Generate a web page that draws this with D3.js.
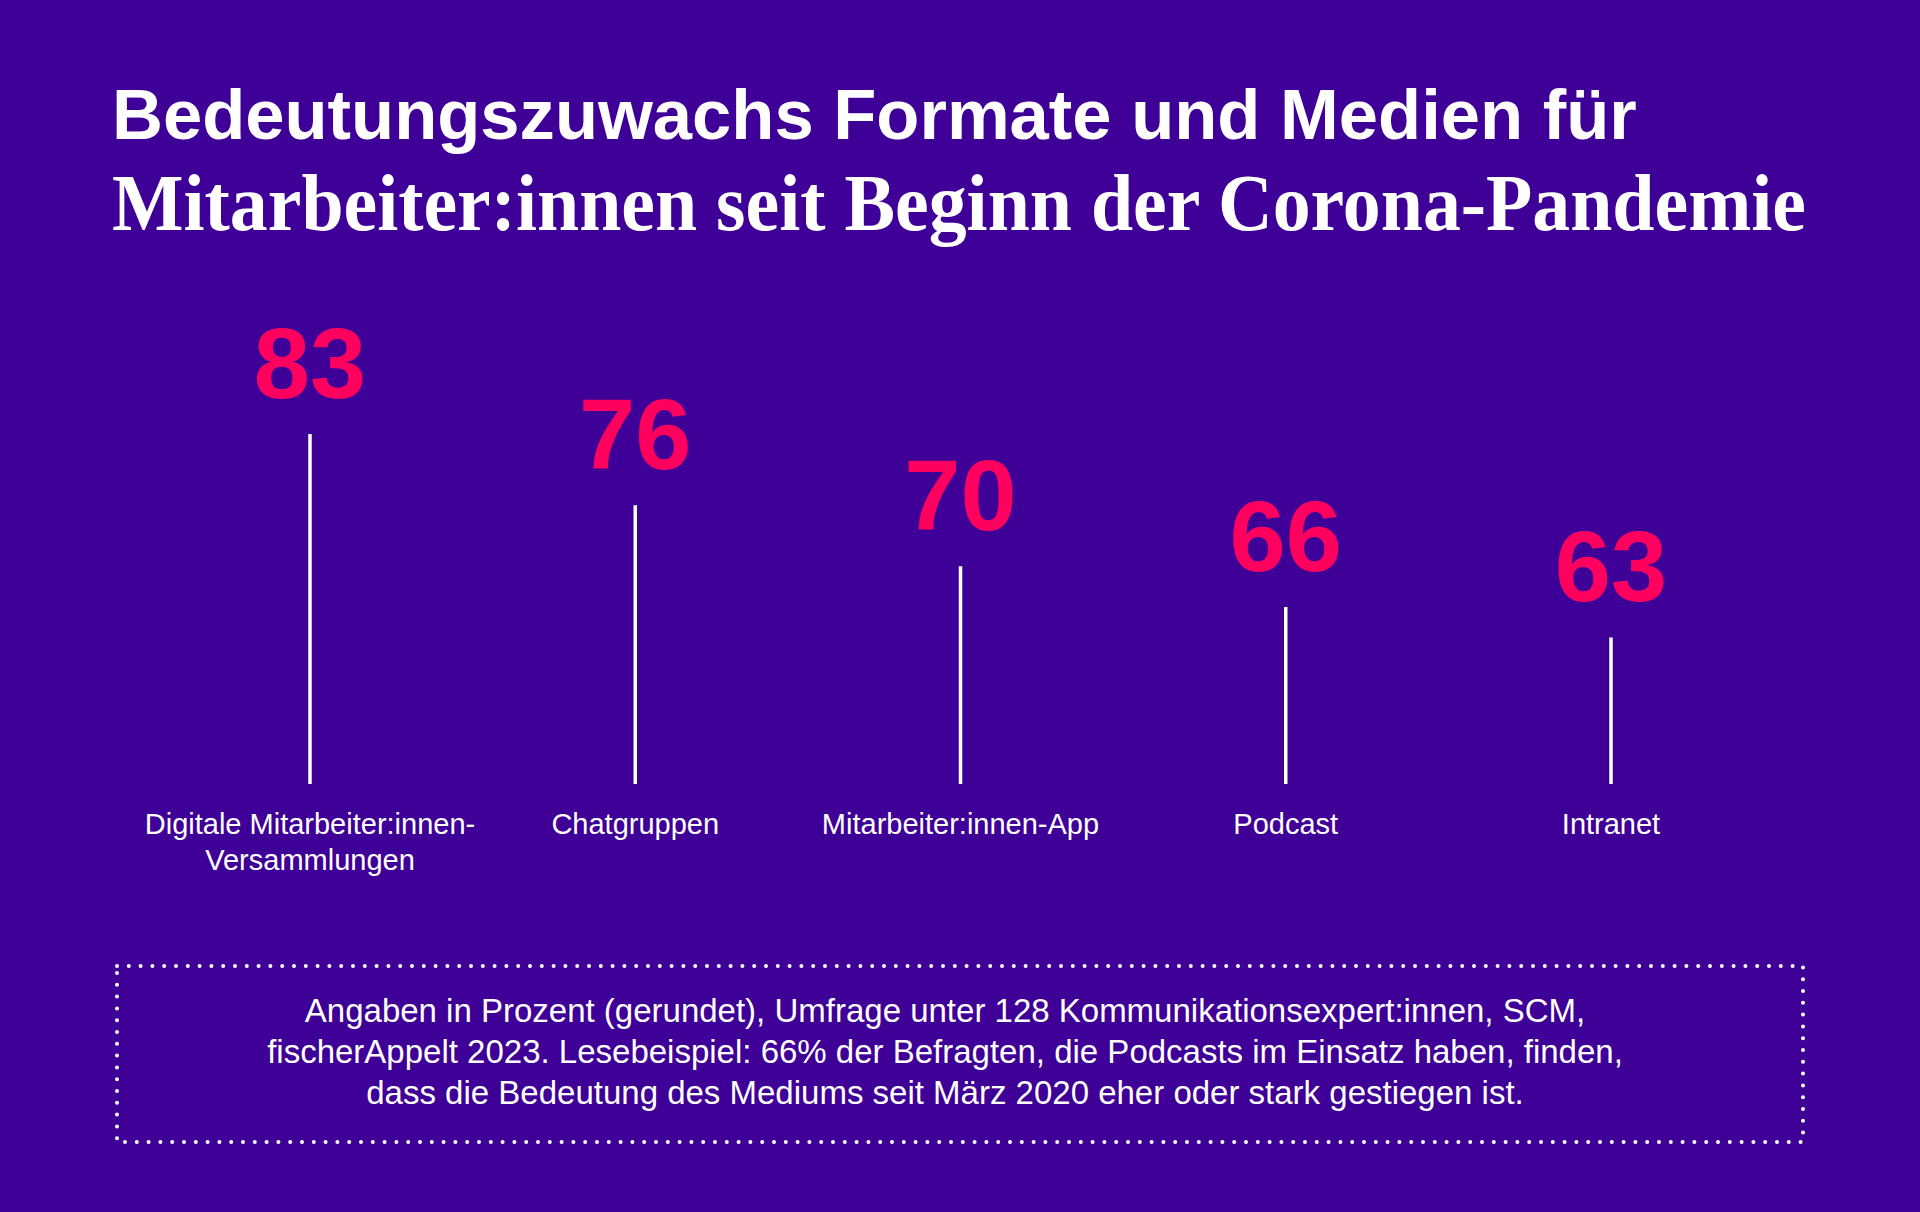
<!DOCTYPE html>
<html>
<head>
<meta charset="utf-8">
<script src="https://cdn.jsdelivr.net/npm/d3@7"></script>
<style>
  html, body { margin: 0; padding: 0; background: #3e0097; }
  svg { display: block; }
</style>
</head>
<body>
<svg id="chart" width="1920" height="1212"></svg>
<script>
// ---- data ----
const titleLine1 = "Bedeutungszuwachs Formate und Medien für";
const titleLine2 = "Mitarbeiter:innen seit Beginn der Corona-Pandemie";
const categories = ["Digitale Mitarbeiter:innen-\nVersammlungen", "Chatgruppen", "Mitarbeiter:innen-App", "Podcast", "Intranet"];
const values = [83, 76, 70, 66, 63];
const footnoteLines = [
  "Angaben in Prozent (gerundet), Umfrage unter 128 Kommunikationsexpert:innen, SCM,",
  "fischerAppelt 2023. Lesebeispiel: 66% der Befragten, die Podcasts im Einsatz haben, finden,",
  "dass die Bedeutung des Mediums seit März 2020 eher oder stark gestiegen ist."
];

// ---- style ----
const BG = "#3e0097", PINK = "#ff005f", WHITE = "#ffffff";
const svg = d3.select("#chart");
svg.append("rect").attr("width", 1920).attr("height", 1212).attr("fill", BG);

// ---- title ----
function fitText(sel, width) {
  const w = sel.node().getComputedTextLength();
  const fs = parseFloat(sel.attr("font-size"));
  sel.attr("font-size", fs * width / w);
}
const t1 = svg.append("text").attr("x", 112).attr("y", 139)
  .attr("font-family", "'Liberation Sans', Arial, sans-serif").attr("font-weight", 700)
  .attr("font-size", 72).attr("fill", WHITE).text(titleLine1);
fitText(t1, 1525);
const t2 = svg.append("text").attr("x", 112).attr("y", 230)
  .attr("font-family", "'Liberation Serif', 'DejaVu Serif', serif").attr("font-weight", 700)
  .attr("font-size", 80).attr("fill", WHITE).text(titleLine2)
  .attr("textLength", 1694).attr("lengthAdjust", "spacingAndGlyphs");

// ---- scales ----
const x = d3.scalePoint().domain(categories).range([310, 1611]).padding(0);
const y = d3.scaleLinear().domain([48.6, 83]).range([784, 434]);

const data = categories.map((c, i) => ({ cat: c, value: values[i] }));
const g = svg.append("g");

// stems
g.selectAll("line.stem").data(data).join("line").attr("class", "stem")
  .attr("x1", d => x(d.cat)).attr("x2", d => x(d.cat))
  .attr("y1", y(y.domain()[0])).attr("y2", d => y(d.value))
  .attr("stroke", WHITE).attr("stroke-width", 3.5);

// value labels
g.selectAll("text.val").data(data).join("text").attr("class", "val")
  .attr("x", d => x(d.cat)).attr("y", d => y(d.value) - 36)
  .attr("text-anchor", "middle")
  .attr("font-family", "'Liberation Sans', Arial, sans-serif").attr("font-weight", 700)
  .attr("font-size", 101).attr("fill", PINK)
  .text(d => d.value);

// category labels
const cl = g.selectAll("text.cat").data(data).join("text").attr("class", "cat")
  .attr("text-anchor", "middle")
  .attr("font-family", "'Liberation Sans', Arial, sans-serif").attr("font-weight", 400)
  .attr("font-size", 29).attr("fill", WHITE);
cl.selectAll("tspan").data(d => d.cat.split("\n").map(s => ({ s, x: x(d.cat) }))).join("tspan")
  .attr("x", d => d.x).attr("y", (d, i) => 834 + i * 36).text(d => d.s);

// ---- footnote box ----
svg.append("rect").attr("x", 117).attr("y", 966).attr("width", 1686).attr("height", 176)
  .attr("fill", "none").attr("stroke", WHITE).attr("stroke-width", 4)
  .attr("stroke-dasharray", "0 11.8").attr("stroke-linecap", "round");
svg.append("g").selectAll("text").data(footnoteLines).join("text")
  .attr("x", 945).attr("y", (d, i) => 1022 + i * 41)
  .attr("text-anchor", "middle")
  .attr("font-family", "'Liberation Sans', Arial, sans-serif").attr("font-size", 33)
  .attr("fill", WHITE).text(d => d);
</script>
</body>
</html>
